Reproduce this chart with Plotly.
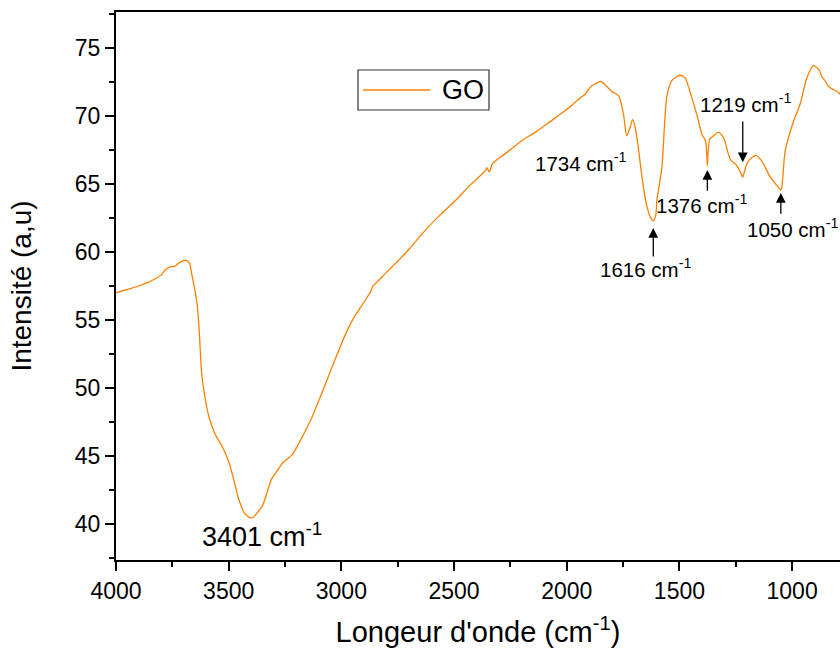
import plotly.graph_objects as go

# FTIR spectrum of graphene oxide (GO): wavenumber (cm-1) vs transmittance intensity (a.u.)
wavenumber = [
    4000, 3950, 3900, 3860, 3824, 3800, 3780, 3760, 3740, 3720, 3692, 3675,
    3662, 3650, 3639, 3630, 3620, 3605, 3588, 3560, 3529, 3500, 3475, 3455,
    3430, 3410, 3401, 3390, 3370, 3351, 3330, 3310, 3285, 3260, 3218, 3180,
    3129, 3080, 3040, 3011, 2975, 2940, 2912, 2870, 2860, 2841, 2800, 2760,
    2700, 2641, 2570, 2493, 2430, 2360, 2355, 2343, 2330, 2316, 2260, 2198,
    2140, 2080, 2040, 1991, 1950, 1919, 1890, 1848, 1830, 1800, 1770, 1748,
    1734, 1720, 1708, 1698, 1685, 1670, 1650, 1630, 1616, 1605, 1600, 1578,
    1556, 1534, 1497, 1475, 1445, 1423, 1400, 1385, 1378, 1376, 1373, 1366,
    1359, 1327, 1304, 1274, 1245, 1225, 1219, 1205, 1193, 1161, 1135, 1097,
    1068, 1053, 1050, 1045, 1031, 994, 964, 935, 905, 880, 868, 850, 840,
    823, 800, 787,
]
intensity = [
    57.0, 57.25, 57.5, 57.75, 58.05, 58.3, 58.7, 58.9, 58.95, 59.2, 59.4, 59.2,
    58.2, 57.2, 56.0, 54.0, 51.1, 49.3, 47.9, 46.6, 45.7, 44.6, 43.1, 41.8,
    40.8, 40.5, 40.45, 40.5, 40.9, 41.3, 42.3, 43.3, 43.9, 44.5, 45.1, 46.2,
    47.9, 49.9, 51.6, 52.8, 54.2, 55.3, 56.0, 57.1, 57.5, 57.8, 58.5, 59.15,
    60.2, 61.35, 62.6, 63.8, 64.9, 66.0, 66.2, 65.9, 66.5, 66.7, 67.4, 68.2,
    68.8, 69.5, 70.0, 70.6, 71.2, 71.6, 72.2, 72.55, 72.3, 71.8, 71.5, 70.1,
    68.55, 69.1, 69.75, 69.3, 68.0, 66.0, 63.8, 62.6, 62.3, 62.7, 63.8, 66.2,
    71.4, 72.6, 73.0, 72.8, 71.35, 70.1, 68.65, 68.2, 67.0, 66.35, 67.3, 68.3,
    68.4, 68.8, 68.4, 66.8, 66.35, 65.7, 65.5, 66.3, 66.7, 67.1, 66.7, 65.5,
    64.9, 64.6, 64.55, 64.8, 67.4, 69.6, 70.9, 72.8, 73.7, 73.4, 72.9, 72.5, 72.2,
    72.0, 71.8, 71.6,
]

# Band assignments marked on the spectrum
band_labels = [3401, 1734, 1616, 1376, 1219, 1050]

LINE_COLOR = "#FF8000"
FONT = "Arial, Liberation Sans, sans-serif"

fig = go.Figure()
fig.add_trace(go.Scatter(
    x=wavenumber, y=intensity, mode="lines", name="GO",
    line=dict(color=LINE_COLOR, width=1.3, shape="spline", smoothing=0.7),
    showlegend=False,
))

# text placement for each band label (x, y in data units)
label_pos = {
    3401: (3352, 39.2),
    1734: (1940, 66.6),
    1616: (1652, 58.8),
    1376: (1400, 63.5),
    1219: (1209, 70.95),
    1050: (1000, 61.75),
}
label_size = {3401: 27}
for band in band_labels:
    lx, ly = label_pos[band]
    fig.add_annotation(
        x=lx, y=ly, xref="x", yref="y", showarrow=False,
        text=f"{band} cm<sup>-1</sup>",
        font=dict(family=FONT, size=label_size.get(band, 20.5), color="black"),
        xanchor="center", yanchor="middle",
    )

# arrows pointing at the absorption bands: (band, head_y, tail_y)
arrows = [(1616, 61.76, 59.56), (1376, 66.03, 64.4), (1219, 66.6, 69.7), (1050, 64.34, 62.7)]
for band, hy, ty in arrows:
    fig.add_annotation(
        x=band, y=hy, ax=band, ay=ty, xref="x", yref="y", axref="x", ayref="y",
        text="", showarrow=True, arrowhead=2, arrowsize=1.5, arrowwidth=1.3,
        arrowcolor="black", standoff=0, startstandoff=0,
    )

# legend box drawn in paper coordinates
def px_x(p):
    return (p - 116) / 724.0

def px_y(p):
    return (560 - p) / 548.0

fig.add_shape(type="rect", xref="paper", yref="paper",
              x0=px_x(358), x1=px_x(489), y0=px_y(110), y1=px_y(70),
              line=dict(color="#333333", width=1.2), fillcolor="white")
fig.add_shape(type="line", xref="paper", yref="paper",
              x0=px_x(363), x1=px_x(430), y0=px_y(90), y1=px_y(90),
              line=dict(color=LINE_COLOR, width=1.3))
fig.add_annotation(x=px_x(463), y=px_y(90), xref="paper", yref="paper",
                   text="GO", showarrow=False, xanchor="center", yanchor="middle",
                   font=dict(family=FONT, size=27, color="black"))

axis_common = dict(
    showline=True, linecolor="black", linewidth=2, ticks="outside",
    ticklen=9, tickwidth=2, tickcolor="black", showgrid=False, zeroline=False,
    tickfont=dict(family=FONT, size=23, color="black"),
)

fig.update_xaxes(
    range=[4000, 787.5], tickmode="array",
    tickvals=[4000, 3500, 3000, 2500, 2000, 1500, 1000],
    minor=dict(tickvals=[3750, 3250, 2750, 2250, 1750, 1250, 750],
               ticks="outside", ticklen=5, tickwidth=2, tickcolor="black"),
    mirror=True,
    title=dict(text="Longeur d'onde (cm<sup>-1</sup>)",
               font=dict(family=FONT, size=29, color="black"), standoff=19),
    **axis_common,
)
fig.update_yaxes(
    range=[37.35, 77.65], tickmode="array",
    tickvals=[40, 45, 50, 55, 60, 65, 70, 75],
    minor=dict(tickvals=[37.5, 42.5, 47.5, 52.5, 57.5, 62.5, 67.5, 72.5, 77.5],
               ticks="outside", ticklen=5, tickwidth=2, tickcolor="black"),
    mirror=False,
    title=dict(text="Intensité (a,u)",
               font=dict(family=FONT, size=28, color="black"), standoff=35),
    **axis_common,
)

fig.update_layout(
    width=840, height=650,
    margin=dict(l=116, r=0, t=12, b=90),
    plot_bgcolor="white", paper_bgcolor="white",
    showlegend=False,
)

fig.write_html("out.html")
